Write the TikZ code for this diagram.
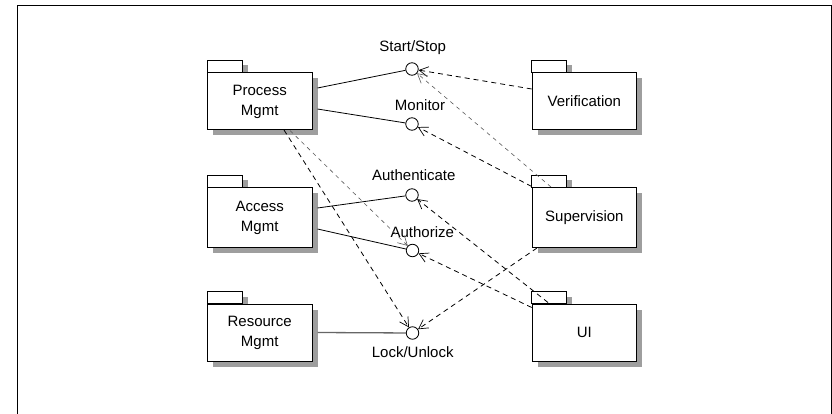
\documentclass[tikz,border=0pt]{standalone}
\usepackage{fontspec}
\setmainfont{Liberation Sans}
\usetikzlibrary{arrows.meta}
\definecolor{shadowc}{RGB}{158,158,158}
\newcommand\pkgbox[5]{%
  \fill[shadowc] (#2+5,#3-7) rectangle (#2+40.5,#3+1);
  \draw[line width=0.9pt, fill=white] (#2,#3-11.8) rectangle (#2+35,#3);
  \fill[shadowc] (#2+6,#3+6) rectangle (#2+110.5,#3+#4+6);
  \node[pkg, minimum height=#4pt] (#1) at (#2,#3) {#5};
}
\begin{document}
\begin{tikzpicture}[x=1pt,y=-1pt,
  every node/.style={font=\fontsize{15}{20}\selectfont},
  pkg/.style={draw, line width=0.9pt, fill=white, minimum width=104.5pt,
    anchor=north west, inner sep=0pt, align=center},
  lol/.style={circle, draw, line width=0.8pt, minimum size=12.5pt, inner sep=0pt, fill=white},
  iface/.style={line width=0.8pt},
  dep/.style={line width=0.8pt, dash pattern=on 5pt off 4pt,
    -{Straight Barb[length=9pt,width=10pt,line width=0.7pt]}},
  deplight/.style={line width=0.6pt, black!65, dash pattern=on 4pt off 4pt,
    -{Straight Barb[length=9pt,width=10pt,line width=0.6pt]}},
  lbl/.style={inner sep=0pt}
]
\useasboundingbox (0,0) rectangle (832,414);
\draw[line width=1pt] (831,420) -- (831,6) -- (17,6) -- (17,420);

% packages
\pkgbox{pm}{207}{72.5}{57}{Process\\Mgmt}
\pkgbox{am}{207}{187.5}{59}{Access\\Mgmt}
\pkgbox{rm}{207}{303.5}{57.5}{Resource\\Mgmt}
\pkgbox{ver}{531.7}{72.5}{57}{Verification}
\pkgbox{sup}{531.7}{187.5}{59}{Supervision}
\pkgbox{ui}{531.7}{303.5}{57.5}{UI}

% interfaces
\node[lol] (ss) at (412,69) {};
\node[lol] (mon) at (412,124) {};
\node[lol] (auth) at (412,195) {};
\node[lol] (authz) at (412.5,250.5) {};
\node[lol] (lock) at (412.5,333) {};

\node[lbl] (lss) at (412.7,48) {Start/Stop};
\node[lbl] (lmon) at (420,105) {Monitor};
\node[lbl] (lauth) at (413.8,175) {Authenticate};
\node[lbl] (lauthz) at (422.3,232.5) {Authorize};
\node[lbl] (llock) at (412.7,352.5) {Lock/Unlock};

% connection points
\coordinate (pm1) at (317.5,88);
\coordinate (pm2) at (317.5,109);
\coordinate (am1) at (317.5,208);
\coordinate (am2) at (317.5,229);
\coordinate (rm1) at (317.5,332.5);
\coordinate (pmb1) at (284,130);
\coordinate (pmb2) at (290,130.5);
\coordinate (ver1) at (531.7,89);
\coordinate (suptab) at (551,187);
\coordinate (sup1) at (531.7,186.5);
\coordinate (sup2) at (537,248);
\coordinate (uitab) at (548,302.5);
\coordinate (ui1) at (531.7,307.5);

% solid interface lines
\draw[iface] (pm1) -- (ss);
\draw[iface] (pm2) -- (mon);
\draw[iface] (am1) -- (auth);
\draw[iface] (am2) -- (authz);
\draw[line width=1.3pt, black!60] (rm1) -- (lock);

% dependencies
\draw[dep] (ver1) -- (ss);
\draw[deplight] (suptab) -- (ss);
\draw[dep] (sup1) -- (mon);
\draw[dep] (uitab) -- (auth);
\draw[dep] (ui1) -- (authz);
\draw[dep] (sup2) -- (lock);
\draw[dep] (pmb1) -- (lock);
\draw[deplight] (pmb2) -- (authz);
\end{tikzpicture}
\end{document}
